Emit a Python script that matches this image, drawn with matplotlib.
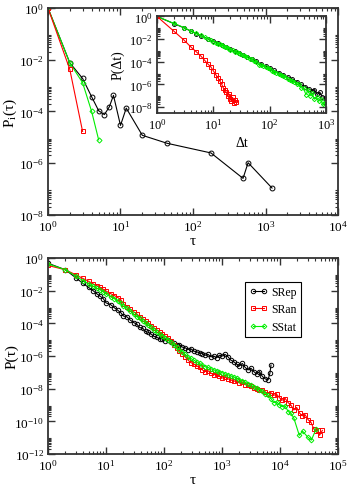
import math
import matplotlib
matplotlib.use('Agg')
import matplotlib.pyplot as plt
from matplotlib.ticker import FixedLocator, LogLocator, FuncFormatter, NullFormatter

plt.rcParams['font.family'] = ['Liberation Serif', 'DejaVu Serif']
plt.rcParams['mathtext.fontset'] = 'stix'

# ---- top panel: P_i(tau) ----
tau_rep_top = [1, 2, 3, 4, 5, 6, 7, 8, 10, 12, 20, 44, 177, 490, 575, 1230]
p_rep_top = [1.0, 7.6e-3, 1.9e-3, 3.7e-4, 1.07e-4, 7.6e-5, 1.5e-4, 4.2e-4,
             2.9e-5, 1.35e-4, 1.2e-5, 5.9e-6, 2.5e-6, 2.6e-7, 1.05e-6, 1.1e-7]
tau_ran_top = [1, 2, 3]
p_ran_top = [1.0, 4.2e-3, 1.7e-5]
tau_stat_top = [1, 2, 3, 4, 5]
p_stat_top = [1.0, 7.5e-3, 1.3e-3, 1.0e-4, 8.0e-6]

# ---- inset: P(dt) ----
dt_ran = [1, 2, 3, 4, 5, 6, 7, 8, 9, 10, 11, 12, 13, 14, 15, 16, 17, 18, 19,
          20, 21, 22, 23, 24, 25]
p_dt_ran = [1.0, 4.9e-2, 8.3e-3, 2.0e-3, 7.4e-4, 3.2e-4, 1.35e-4, 6.3e-5,
            3.6e-5, 1.6e-5, 7.4e-6, 4.0e-6, 2.0e-6, 1.1e-6, 5.0e-7, 3.2e-7,
            2.0e-7, 1.0e-7, 1.4e-7, 5.0e-8, 3.2e-8, 7.1e-8, 2.5e-8, 4.0e-8,
            2.8e-8]
dt_rep = [1, 2, 3, 4, 5, 6, 8, 10, 12, 14, 17, 20, 24, 28, 33, 40, 48, 58,
          70, 85, 100, 120, 145, 175, 210, 250, 300, 360, 430, 500, 560, 620,
          700, 780, 850]
p_dt_rep = [1.0, 0.23, 0.1, 0.05, 0.031, 0.02, 0.0105, 6.2e-3, 4.1e-3,
            2.9e-3, 2.0e-3, 1.25e-3, 8.5e-4, 6.0e-4, 4.2e-4, 2.7e-4, 1.8e-4,
            1.1e-4, 6.3e-5, 4.0e-5, 2.8e-5, 1.7e-5, 1.1e-5, 6.9e-6, 4.5e-6,
            3.0e-6, 1.8e-6, 1.0e-6, 6.3e-7, 4.0e-7, 2.5e-7, 3.5e-7, 1.3e-7,
            2.0e-7, 8.0e-8]
dt_stat = [1, 2, 3, 4, 5, 6, 7, 8, 9, 10, 11, 12, 13, 14, 15, 16, 17, 18, 19,
           20, 22, 24, 26, 28, 30, 33, 36, 40, 44, 48, 53, 58, 64, 70, 77, 85,
           93, 100, 110, 120, 132, 145, 160, 175, 190, 210, 230, 250, 275, 300,
           330, 360, 400, 440, 480, 520, 570, 620, 680, 740, 800, 870, 940]
p_dt_stat = [1.0, 0.24, 0.105, 0.052, 0.032, 0.021, 0.014, 0.0105, 7.9e-3,
             6.0e-3, 4.8e-3, 4.0e-3, 3.4e-3, 2.8e-3, 2.5e-3, 2.2e-3, 1.9e-3,
             1.66e-3, 1.45e-3, 1.17e-3, 1.0e-3, 7.9e-4, 6.9e-4, 5.6e-4, 5.0e-4,
             3.8e-4, 3.2e-4, 2.4e-4, 1.8e-4, 1.6e-4, 1.07e-4, 8.9e-5, 5.6e-5,
             5.0e-5, 4.0e-5, 3.2e-5, 2.6e-5, 2.3e-5, 1.6e-5, 1.26e-5, 1.12e-5,
             7.9e-6, 6.3e-6, 5.0e-6, 4.5e-6, 3.2e-6, 2.5e-6, 2.2e-6, 1.6e-6,
             1.12e-6, 1.0e-6, 5.0e-7, 4.5e-7, 1.26e-7, 3.2e-7, 1.0e-7, 1.6e-7,
             5.0e-8, 7.9e-8, 3.2e-8, 5.0e-8, 1.8e-8, 2.5e-8]

# ---- bottom panel: P(tau) ----
tau_rep = [1, 2, 3, 4, 5, 6, 7, 8, 9, 10, 12, 14, 16, 18, 20, 23, 26, 30, 34,
           38, 43, 48, 54, 60, 67, 75, 84, 94, 105, 118, 132, 148, 165, 185,
           207, 232, 260, 290, 325, 365, 410, 460, 515, 575, 645, 720, 810,
           905, 1010, 1130, 1270, 1420, 1590, 1780, 2000, 2240, 2510, 2810,
           3150, 3530, 3950, 4430, 4960, 5560, 6230, 6700, 7000]
p_rep = [0.48, 0.19, 0.063, 0.028, 0.016, 0.010, 6.3e-3, 4.5e-3, 3.2e-3,
         1.8e-3, 1.4e-3, 8.9e-4, 6.3e-4, 4.5e-4, 2.8e-4, 2.5e-4, 1.6e-4,
         1.12e-4, 8.9e-5, 5.6e-5, 5.0e-5, 3.2e-5, 2.8e-5, 2.2e-5, 1.6e-5,
         1.4e-5, 1.12e-5, 1.12e-5, 8.9e-6, 1.0e-5, 7.1e-6, 6.3e-6, 4.5e-6,
         5.0e-6, 3.5e-6, 3.2e-6, 2.5e-6, 2.8e-6, 2.0e-6, 1.8e-6, 1.6e-6,
         1.4e-6, 1.12e-6, 1.26e-6, 8.9e-7, 1.0e-6, 7.9e-7, 1.12e-6, 1.0e-6,
         1.26e-6, 8.9e-7, 5.6e-7, 4.5e-7, 3.2e-7, 2.5e-7, 3.5e-7, 2.0e-7,
         1.4e-7, 1.8e-7, 1.12e-7, 7.9e-8, 1.12e-7, 5.6e-8, 4.0e-8, 3.5e-8,
         8.9e-8, 2.8e-7]
tau_ran = [1, 2, 3, 4, 5, 6, 7, 8, 9, 10, 12, 14, 16, 18, 20, 23, 26, 30, 34,
           38, 43, 48, 54, 60, 67, 75, 84, 94, 105, 118, 132, 148, 165, 185,
           207, 232, 260, 290, 325, 365, 410, 460, 515, 575, 645, 720, 810,
           905, 1010, 1130, 1270, 1420, 1590, 1780, 2000, 2240, 2510, 2810,
           3150, 3530, 3950, 4430, 4960, 5560, 6230, 6980, 7800, 8750, 9800,
           11000, 12300, 13800, 15400, 17300, 19400, 21700, 24300, 27200,
           30500, 34100, 38200, 41000, 44700, 48000, 53700]
p_ran = [0.35, 0.19, 0.095, 0.056, 0.038, 0.026, 0.02, 0.016, 0.012, 9.5e-3,
         6.6e-3, 5.0e-3, 3.8e-3, 2.8e-3, 1.5e-3, 1.05e-3, 7.6e-4, 5.0e-4,
         3.8e-4, 2.5e-4, 1.9e-4, 1.3e-4, 1.0e-4, 7.1e-5, 5.2e-5, 4.0e-5,
         2.8e-5, 2.2e-5, 1.6e-5, 1.26e-5, 7.9e-6, 5.0e-6, 3.2e-6, 2.0e-6,
         1.4e-6, 8.9e-7, 5.6e-7, 4.0e-7, 3.2e-7, 2.5e-7, 2.0e-7, 1.4e-7,
         1.12e-7, 1.26e-7, 8.9e-8, 7.1e-8, 7.9e-8, 5.6e-8, 4.5e-8, 5.0e-8,
         4.0e-8, 3.5e-8, 2.8e-8, 3.2e-8, 2.2e-8, 2.5e-8, 1.8e-8, 1.6e-8,
         1.4e-8, 1.12e-8, 1.0e-8, 7.9e-9, 8.9e-9, 6.3e-9, 5.0e-9, 5.6e-9,
         4.0e-9, 4.5e-9, 2.8e-9, 2.0e-9, 2.5e-9, 1.4e-9, 1.0e-9, 5.0e-10,
         7.1e-10, 3.2e-10, 2.2e-10, 2.5e-10, 1.26e-10, 8.9e-11, 3.5e-11,
         2.5e-11, 2.8e-11, 1.4e-11, 2.8e-11]
tau_stat = [1, 2, 3, 4, 5, 6, 7, 8, 9, 10, 12, 14, 16, 18, 20, 23, 26, 30, 34,
            38, 43, 48, 54, 60, 67, 75, 84, 94, 105, 118, 132, 148, 165, 185,
            207, 232, 260, 290, 325, 365, 410, 460, 515, 575, 645, 720, 810,
            905, 1010, 1130, 1270, 1420, 1590, 1780, 2000, 2240, 2510, 2810,
            3150, 3530, 3950, 4430, 4960, 5560, 6230, 6980, 7800, 8750, 9800,
            11000, 12300, 13800, 15400, 17300, 21500, 24500, 30000, 34700,
            41700]
p_stat = [0.44, 0.19, 0.079, 0.042, 0.026, 0.019, 0.014, 0.011, 8.3e-3,
          6.3e-3, 4.2e-3, 3.2e-3, 2.2e-3, 1.66e-3, 1.12e-3, 8.3e-4, 6.0e-4,
          3.5e-4, 2.6e-4, 2.0e-4, 1.4e-4, 1.05e-4, 7.6e-5, 5.6e-5, 4.0e-5,
          2.8e-5, 2.2e-5, 1.8e-5, 1.26e-5, 1.0e-5, 7.1e-6, 5.0e-6, 3.5e-6,
          2.5e-6, 1.8e-6, 1.26e-6, 8.9e-7, 7.1e-7, 5.6e-7, 4.5e-7, 3.5e-7,
          2.8e-7, 2.2e-7, 2.0e-7, 1.66e-7, 1.4e-7, 1.26e-7, 1.12e-7, 9.5e-8,
          7.9e-8, 7.1e-8, 6.0e-8, 5.2e-8, 4.5e-8, 3.5e-8, 3.0e-8, 2.5e-8,
          2.0e-8, 1.66e-8, 1.3e-8, 1.12e-8, 8.9e-9, 7.1e-9, 5.0e-9, 4.0e-9,
          2.5e-9, 1.4e-9, 1.6e-9, 1.0e-9, 7.9e-10, 8.9e-10, 4.0e-10, 3.2e-10,
          1.6e-10, 1.4e-11, 2.5e-11, 1.1e-11, 7.1e-12, 3.2e-11]

RED = '#ff0000'
GREEN = '#00ee00'
AXC = '#333333'


def pow_fmt(v, pos):
    e = int(round(math.log10(v)))
    return r'$\mathregular{10^{%d}}$' % e


def style(ax, xdec, ydec_even, fs=9.5):
    ax.set_xscale('log')
    ax.set_yscale('log')
    ax.xaxis.set_major_locator(FixedLocator([10.0 ** k for k in xdec]))
    ax.xaxis.set_minor_locator(LogLocator(base=10, subs=range(2, 10), numticks=50))
    ax.yaxis.set_major_locator(FixedLocator([10.0 ** k for k in ydec_even]))
    ax.yaxis.set_minor_locator(FixedLocator(
        [m * 10.0 ** k for k in ydec_even[:-1] for m in range(2, 10)]))
    ax.xaxis.set_major_formatter(FuncFormatter(pow_fmt))
    ax.yaxis.set_major_formatter(FuncFormatter(pow_fmt))
    ax.xaxis.set_minor_formatter(NullFormatter())
    ax.yaxis.set_minor_formatter(NullFormatter())
    ax.tick_params(which='both', direction='in', top=True, right=True,
                   color=AXC, labelsize=fs)
    ax.tick_params(which='major', length=5, width=1.0, pad=3)
    ax.tick_params(which='minor', length=2.5, width=0.8)
    for s in ax.spines.values():
        s.set_color(AXC)
        s.set_linewidth(1.3)


fig = plt.figure(figsize=(3.49, 4.89), dpi=100)
mk = dict(mfc='none', lw=0.8, mew=0.7)

# top main axes
ax1 = fig.add_axes([0.1375, 0.5583, 0.831, 0.4233])
ax1.plot(tau_rep_top, p_rep_top, '-o', color='black', ms=3.5, **mk)
ax1.plot(tau_stat_top, p_stat_top, '-D', color=GREEN, ms=2.6, **mk)
ax1.plot(tau_ran_top, p_ran_top, '-s', color=RED, ms=3.2, **mk)
ax1.set_xlim(1, 1e4)
ax1.set_ylim(1e-8, 1)
style(ax1, [0, 1, 2, 3, 4], [-8, -6, -4, -2, 0])
ax1.set_xlabel('τ', fontsize=11, labelpad=0)
ax1.set_ylabel('P$_{\\mathregular{i}}$(τ)', fontsize=11)
ax1.yaxis.set_label_coords(-0.1, 0.5)

# inset
ax2 = fig.add_axes([0.4499, 0.7669, 0.4842, 0.1984])
ax2.plot(dt_rep, p_dt_rep, '-o', color='black', ms=2.8, **mk)
ax2.plot(dt_stat, p_dt_stat, '-D', color=GREEN, ms=2.2, **mk)
ax2.plot(dt_ran, p_dt_ran, '-s', color=RED, ms=2.6, **mk)
ax2.set_xlim(1, 1000)
ax2.set_ylim(3e-9, 1.1)
style(ax2, [0, 1, 2, 3], [-8, -6, -4, -2, 0], fs=9)
ax2.set_xlabel('Δt', fontsize=10, labelpad=3)
ax2.set_ylabel('P(Δt)', fontsize=10)
ax2.yaxis.set_label_coords(-0.19, 0.5)

# bottom axes
ax3 = fig.add_axes([0.1375, 0.0695, 0.831, 0.4008])
ax3.plot(tau_rep, p_rep, '-o', color='black', ms=3.2, label='SRep', **mk)
ax3.plot(tau_ran, p_ran, '-s', color=RED, ms=2.9, label='SRan', **mk)
ax3.plot(tau_stat, p_stat, '-D', color=GREEN, ms=2.4, label='SStat', **mk)
ax3.set_xlim(1, 1e5)
ax3.set_ylim(1e-12, 1)
style(ax3, [0, 1, 2, 3, 4, 5], [-12, -10, -8, -6, -4, -2, 0])
ax3.set_xlabel('τ', fontsize=11, labelpad=0)
ax3.set_ylabel('P(τ)', fontsize=11)
ax3.yaxis.set_label_coords(-0.1, 0.5)
leg = ax3.legend(loc='upper left', bbox_to_anchor=(0.679, 0.878),
                 fontsize=8.5, numpoints=2, handlelength=1.6,
                 handletextpad=0.3, borderpad=0.35, labelspacing=0.45,
                 fancybox=False, framealpha=1, edgecolor='black',
                 borderaxespad=0)
leg.get_frame().set_linewidth(0.8)

fig.savefig('out.png', dpi=100)
